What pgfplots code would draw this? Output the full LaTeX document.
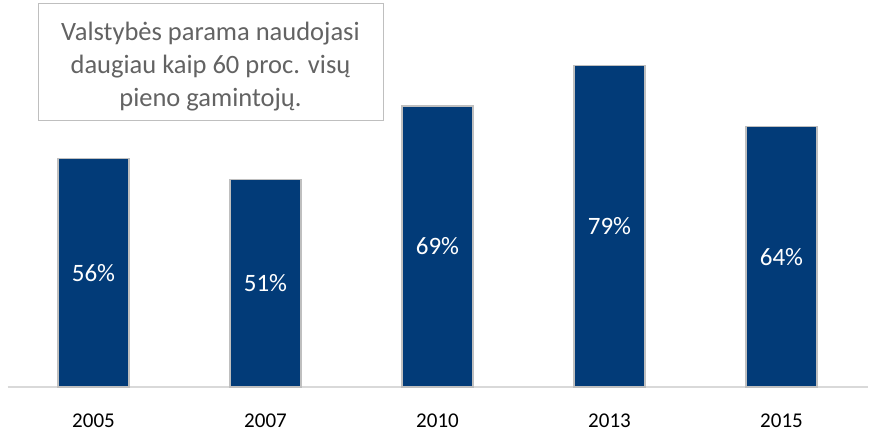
\documentclass[border=0pt]{standalone}
\usepackage{pgfplots}
\pgfplotsset{compat=1.18}
\usepackage{fontspec}
\setmainfont{Carlito}
\definecolor{barblue}{HTML}{023B78}
\definecolor{baredge}{HTML}{BFBFBF}
\definecolor{axisgrey}{HTML}{D9D9D9}
\definecolor{boxtext}{HTML}{636363}
\begin{document}
\begin{tikzpicture}[x=1pt,y=1pt]
\useasboundingbox (-7.5,-45) rectangle (864.5,387);
\begin{axis}[
  at={(0,0)}, anchor=south west,
  scale only axis, width=860pt, height=387pt,
  xmin=-0.5, xmax=4.5, ymin=0, ymax=95,
  axis x line=bottom, axis y line=none,
  x axis line style={draw=axisgrey, line width=1.6pt, -},
  xtick={0,1,2,3,4},
  xticklabels={2005,2007,2010,2013,2015},
  major tick length=0pt,
  xticklabel style={font=\fontsize{21}{24}\selectfont, text=black, yshift=-23pt},
  /pgf/number format/assume math mode=true,
  clip=false,
]
\addplot[ybar, bar width=71pt, fill=barblue, draw=baredge, line width=1.2pt]
  coordinates {(0,56) (1,51) (2,69) (3,79) (4,64)};
\addplot[draw=none, mark=none, nodes near coords, point meta=explicit symbolic,
  every node near coord/.append style={anchor=center, text=white, font=\fontsize{25}{28}\selectfont}]
  table[x=x, y expr=\thisrow{v}/2, meta=lab] {
x v lab
0 56 56\%
1 51 51\%
2 69 69\%
3 79 79\%
4 64 64\%
};
\end{axis}
\draw[draw=baredge, line width=0.8pt, fill=white] (30.5,384) rectangle (375.5,267);
\node[anchor=center, align=center, text=boxtext, inner sep=0pt,
  font=\fontsize{26.5}{33}\selectfont] at (203,320)
  {Valstybės parama naudojasi\\daugiau kaip 60 proc. visų\\pieno gamintojų.};
\end{tikzpicture}
\end{document}
